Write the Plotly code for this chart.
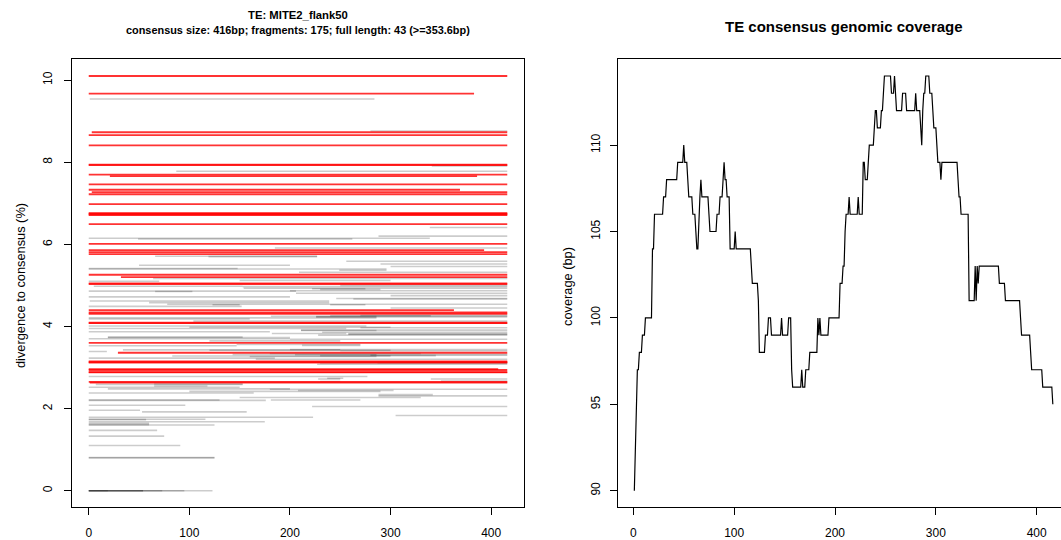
import plotly.graph_objects as go

# ---- fragment data (consensus start, consensus end, divergence %) ----
# full-length fragments (>= 353.6 bp)
full_start = [0, 0, 3, 0, 0, 0, 0, 0, 21, 0, 0, 3, 0, 0, 0, 0, 0, 0, 0, 0, 0, 0,
              0, 0, 32, 0, 0, 0, 0, 0, 0, 0, 0, 29, 0, 0, 0, 0, 0, 0, 0, 0, 1]
full_end = [416, 383, 416, 416, 416, 416, 416, 416, 386, 416, 369, 416, 416, 416, 416,
            416, 416, 416, 416, 416, 393, 416, 416, 416, 416, 416, 416, 363, 416, 416,
            416, 416, 416, 416, 416, 416, 416, 407, 416, 416, 416, 416, 416]
full_div = [10.10, 9.67, 8.73, 8.66, 8.41, 7.94, 7.93, 7.70, 7.66, 7.46, 7.33, 7.27,
            7.22, 6.98, 6.76, 6.745, 6.73, 6.71, 6.49, 6.01, 5.86, 5.81, 5.76, 5.26,
            5.20, 5.05, 5.03, 4.40, 4.34, 4.31, 4.09, 4.08, 3.60, 3.36, 3.15, 3.13,
            3.12, 2.96, 2.94, 2.89, 2.88, 2.65, 2.63]

# partial fragments
part_start = [1, 280, 341, 87, 339, 288, 0, 49, 185, 66, 119, 256, 290, 50, 300, 0, 0,
              249, 209, 64, 150, 0, 250, 5, 153, 154, 222, 230, 200, 0, 66, 206, 300,
              0, 246, 263, 1, 60, 78, 123, 240, 0, 270, 240, 181, 226, 226, 0, 0, 104,
              0, 100, 270, 0, 211, 211, 0, 232, 182, 258, 258, 228, 19, 19, 0, 200,
              147, 212, 0, 34, 200, 120, 250, 0, 180, 143, 205, 280, 230, 83, 160, 0,
              166, 287, 230, 227, 0, 237, 340, 228, 350, 230, 65, 7, 65, 0, 19, 180,
              208, 100, 0, 288, 288, 150, 0, 181, 0, 0, 222, 0, 53, 305, 0, 0, 0, 0,
              0, 0, 0, 0, 0, 0, 0, 0, 0, 0, 0, 0, 0, 0, 120, 300]
part_end = [284, 416, 416, 416, 416, 416, 339, 262, 416, 227, 227, 416, 416, 200, 416,
            148, 296, 296, 416, 416, 300, 70, 416, 153, 416, 416, 275, 290, 416, 206,
            103, 416, 416, 200, 416, 416, 239, 239, 416, 150, 275, 152, 416, 340, 416,
            286, 416, 286, 160, 416, 276, 300, 416, 256, 416, 286, 180, 416, 256, 416,
            416, 416, 153, 200, 200, 416, 270, 270, 147, 250, 416, 300, 416, 18, 330,
            416, 286, 416, 345, 300, 286, 185, 416, 416, 416, 416, 277, 253, 416, 250,
            416, 250, 153, 153, 118, 150, 200, 416, 303, 290, 164, 342, 416, 330, 130,
            270, 176, 96, 416, 51, 157, 416, 223, 116, 57, 175, 60, 60, 125, 68, 75,
            91, 125, 125, 19, 54, 54, 73, 95, 123, 250, 416]
part_div = [9.54, 8.76, 7.91, 7.78, 6.41, 6.20, 6.15, 6.13, 5.91, 5.71, 5.70, 5.59,
            5.52, 5.49, 5.46, 5.41, 5.40, 5.37, 5.32, 5.17, 5.12, 5.10, 5.00, 4.98,
            4.97, 4.93, 4.92, 4.90, 4.87, 4.86, 4.85, 4.81, 4.75, 4.72, 4.68, 4.67,
            4.62, 4.58, 4.54, 4.53, 4.53, 4.49, 4.27, 4.26, 4.25, 4.24, 4.23, 4.21,
            4.18, 4.13, 4.01, 3.98, 3.97, 3.95, 3.91, 3.90, 3.87, 3.86, 3.83, 3.82,
            3.81, 3.79, 3.74, 3.73, 3.70, 3.69, 3.56, 3.54, 3.53, 3.43, 3.44, 3.42,
            3.41, 3.39, 3.34, 3.32, 3.31, 3.30, 3.29, 3.28, 3.27, 3.23, 3.20, 3.12,
            3.11, 3.08, 2.78, 2.74, 2.72, 2.72, 2.67, 2.66, 2.60, 2.59, 2.55, 2.52,
            2.48, 2.47, 2.44, 2.42, 2.38, 2.34, 2.31, 2.27, 2.21, 2.21, 2.20, 2.08,
            2.05, 1.96, 1.92, 1.83, 1.79, 1.74, 1.73, 1.68, 1.64, 1.61, 1.60, 1.47,
            1.33, 1.10, 0.81, 0.80, 0.0, 0.0, 0.0, 0.0, 0.0, 0.0, 3.65, 4.45]

# ---- genomic coverage along the consensus (positions 1..416) ----
cov_pos = list(range(1, 417))
cov_val = [
    90, 93, 95, 97, 97, 98, 98, 98, 99, 99,
    99, 100, 100, 100, 100, 100, 100, 100, 104, 104,
    106, 106, 106, 106, 106, 106, 106, 106, 106, 107,
    107, 107, 108, 108, 108, 108, 108, 108, 108, 108,
    108, 108, 108, 109, 109, 109, 109, 109, 109, 110,
    109, 109, 109, 108, 107, 107, 107, 107, 106, 106,
    106, 105, 104, 104, 106, 107, 108, 107, 107, 107,
    107, 107, 107, 107, 106, 105, 105, 105, 105, 105,
    105, 105, 106, 106, 106, 107, 107, 107, 108, 109,
    108, 108, 107, 107, 107, 104, 104, 104, 104, 104,
    105, 104, 104, 104, 104, 104, 104, 104, 104, 104,
    104, 104, 104, 104, 104, 104, 103, 102, 102, 102,
    102, 102, 102, 101, 98, 98, 98, 98, 98, 98,
    99, 99, 99, 100, 100, 100, 99, 99, 99, 99,
    99, 99, 99, 99, 99, 99, 100, 99, 99, 99,
    99, 99, 99, 100, 100, 100, 97, 96, 96, 96,
    96, 96, 96, 96, 96, 96, 97, 96, 96, 96,
    97, 97, 97, 97, 98, 98, 98, 98, 98, 98,
    98, 98, 100, 99, 100, 99, 99, 99, 99, 99,
    99, 99, 99, 100, 100, 100, 100, 100, 100, 100,
    100, 100, 100, 100, 102, 102, 102, 103, 103, 105,
    106, 106, 106, 107, 106, 106, 106, 106, 106, 106,
    106, 106, 107, 106, 106, 106, 106, 109, 109, 108,
    108, 108, 109, 110, 110, 110, 110, 110, 111, 112,
    112, 111, 111, 111, 111, 112, 112, 113, 114, 114,
    114, 114, 114, 114, 114, 113, 113, 113, 114, 113,
    112, 112, 112, 112, 112, 112, 113, 113, 113, 113,
    112, 112, 112, 112, 112, 112, 112, 112, 112, 113,
    112, 112, 112, 112, 111, 110, 112, 113, 113, 114,
    114, 114, 114, 113, 113, 113, 112, 111, 111, 111,
    110, 109, 109, 109, 108, 109, 109, 109, 109, 109,
    109, 109, 109, 109, 109, 109, 109, 109, 109, 109,
    109, 108, 107, 107, 106, 106, 106, 106, 106, 106,
    106, 106, 101, 101, 101, 101, 101, 101, 103, 101,
    103, 102, 103, 103, 103, 103, 103, 103, 103, 103,
    103, 103, 103, 103, 103, 103, 103, 103, 103, 103,
    103, 103, 102, 102, 102, 102, 102, 102, 101, 101,
    101, 101, 101, 101, 101, 101, 101, 101, 101, 101,
    101, 101, 101, 100, 99, 99, 99, 99, 99, 99,
    99, 99, 99, 98, 97, 97, 97, 97, 97, 97,
    97, 97, 97, 97, 97, 96, 96, 96, 96, 96,
    96, 96, 96, 96, 96, 95,
]

# ---- axis ticks ----
pos_ticks = [0, 100, 200, 300, 400]
div_ticks = [0, 2, 4, 6, 8, 10]
cov_ticks = [90, 95, 100, 105, 110]

FONT = "Liberation Sans, Arial, Helvetica, sans-serif"
W, H = 1061, 540

fig = go.Figure()

# partial fragments: translucent grey, overlaps darken
for s, e, d in zip(part_start, part_end, part_div):
    fig.add_trace(go.Scatter(x=[s, e], y=[d, d], mode="lines",
                             line=dict(color="rgba(0,0,0,0.2)", width=1.6),
                             xaxis="x", yaxis="y", hoverinfo="skip",
                             showlegend=False))

# full-length fragments in red
for s, e, d in zip(full_start, full_end, full_div):
    fig.add_trace(go.Scatter(x=[s, e], y=[d, d], mode="lines",
                             line=dict(color="rgba(255,0,0,0.8)", width=1.8),
                             xaxis="x", yaxis="y", hoverinfo="skip",
                             showlegend=False))

# coverage profile
fig.add_trace(go.Scatter(x=cov_pos, y=cov_val, mode="lines",
                         line=dict(color="black", width=1.2),
                         xaxis="x2", yaxis="y2", hoverinfo="skip",
                         showlegend=False))

ydom = [1 - 507.3 / H, 1 - 59.4 / H]
common = dict(showgrid=False, zeroline=False, showline=True, linecolor="black",
              linewidth=1, ticks="outside", ticklen=7, tickcolor="black",
              tickwidth=1, tickfont=dict(family=FONT, size=12, color="black"))

fig.update_layout(
    width=W, height=H,
    margin=dict(l=0, r=0, t=0, b=0),
    paper_bgcolor="white", plot_bgcolor="white",
    showlegend=False,
    font=dict(family=FONT, color="black"),
    xaxis=dict(domain=[72 / W, 524 / W], range=[-16.64, 432.64],
               tickvals=pos_ticks, mirror=True, anchor="y",
               ticklabelstandoff=7, **common),
    yaxis=dict(domain=ydom, range=[-0.404, 10.504], tickvals=div_ticks,
               tickangle=-90, mirror=True, anchor="x",
               ticklabelstandoff=7, **common),
    xaxis2=dict(domain=[617.6 / W, 1.0], range=[-15.6, 424.1],
                tickvals=pos_ticks, mirror=True, anchor="y2",
                ticklabelstandoff=7, **common),
    yaxis2=dict(domain=ydom, range=[89.04, 114.96], tickvals=cov_ticks,
                tickangle=-90, mirror=False, anchor="x2",
                ticklabelstandoff=5, **common),
)

ann = [
    dict(text="<b>TE: MITE2_flank50</b>", x=298 / W, y=1 - 14.5 / H,
         font=dict(size=11.3)),
    dict(text="<b>consensus size: 416bp; fragments: 175; full length: 43 (>=353.6bp)</b>",
         x=298 / W, y=1 - 30 / H, font=dict(size=10.9)),
    dict(text="<b>TE consensus genomic coverage</b>", x=843.6 / W, y=1 - 26 / H,
         font=dict(size=15)),
    dict(text="divergence to consensus (%)", x=20 / W, y=1 - 286 / H,
         textangle=-90, font=dict(size=12.8)),
    dict(text="coverage (bp)", x=567 / W, y=1 - 287 / H,
         textangle=-90, font=dict(size=12.8)),
]
for a in ann:
    a.update(xref="paper", yref="paper", showarrow=False,
             xanchor="center", yanchor="middle")
    a["font"].update(family=FONT, color="black")
fig.update_layout(annotations=ann)

fig.write_html("out.html")
